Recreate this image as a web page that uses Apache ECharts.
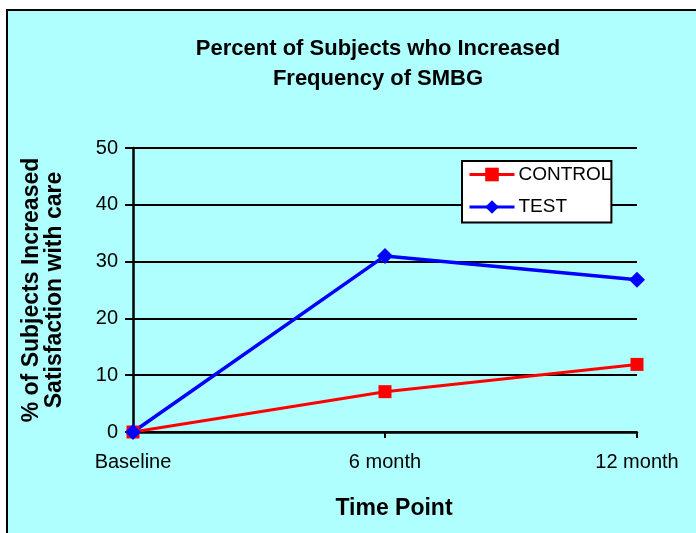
<!DOCTYPE html>
<html>
<head>
<meta charset="utf-8">
<script src="https://cdn.jsdelivr.net/npm/echarts@6/dist/echarts.min.js"></script>
<style>
  html, body { margin: 0; padding: 0; background: #fff; overflow: hidden; }
  #frame {
    position: absolute; left: 6px; top: 9px; width: 720px; height: 560px;
    background: #afffff; border: 2px solid #000;
  }
  #chart { position: absolute; left: 0; top: 0; width: 696px; height: 533px; }
</style>
</head>
<body>
<div id="frame"></div>
<div id="chart"></div>
<script>
const categories = ["Baseline", "6 month", "12 month"]
const controlValues = [0, 7.1, 11.9]
const testValues = [0, 31.0, 26.8]
const seriesNames = ["CONTROL", "TEST"]

const font = "'Liberation Sans', Arial, sans-serif"
const black = "#000"

const chart = echarts.init(document.getElementById("chart"), null, { renderer: "canvas" })

const option = {
  animation: false,
  backgroundColor: "transparent",
  textStyle: { fontFamily: font },
  title: {
    text: "Percent of Subjects who Increased\nFrequency of SMBG",
    left: 378,
    top: 34,
    textAlign: "center",
    padding: 0,
    textStyle: {
      fontFamily: font,
      fontSize: 22,
      fontWeight: "bold",
      color: black,
      lineHeight: 30,
    },
  },
  legend: {
    data: seriesNames,
    orient: "vertical",
    left: 462,
    top: 161,
    padding: [4, 0, 6, 6],
    itemGap: 13.5,
    itemWidth: 45,
    itemHeight: 17,
    backgroundColor: "#fff",
    borderColor: black,
    borderWidth: 2,
    borderRadius: 0,
    lineStyle: { width: 3 },
    textStyle: { fontFamily: font, fontSize: 19, color: black, padding: [0, 0, 0, -1] },
  },
  grid: {
    left: 133,
    right: 59,
    top: 148,
    bottom: 101,
    containLabel: false,
  },
  xAxis: {
    type: "category",
    data: categories,
    boundaryGap: false,
    name: "Time Point",
    nameLocation: "middle",
    nameGap: 65,
    nameTextStyle: {
      fontFamily: font,
      fontSize: 23,
      fontWeight: "bold",
      color: black,
      padding: [0, 0, 0, 18],
    },
    axisLine: { show: true, lineStyle: { color: black, width: 2.5 } },
    axisTick: { show: true, length: 6, lineStyle: { color: black, width: 2 } },
    axisLabel: { color: black, fontSize: 20, margin: 20, fontFamily: font },
    splitLine: { show: false },
  },
  yAxis: {
    type: "value",
    min: 0,
    max: 50,
    interval: 10,
    name: "% of Subjects Increased\nSatisfaction with care",
    nameLocation: "middle",
    nameGap: 67,
    nameTextStyle: {
      fontFamily: font,
      fontSize: 23,
      fontWeight: "bold",
      color: black,
      lineHeight: 23,
    },
    axisLine: { show: true, lineStyle: { color: black, width: 2.5 } },
    axisTick: { show: true, length: 8, lineStyle: { color: black, width: 2 } },
    axisLabel: { color: black, fontSize: 20, margin: 15, fontFamily: font },
    splitLine: { show: true, lineStyle: { color: black, width: 2 } },
  },
  series: [
    {
      name: seriesNames[0],
      type: "line",
      data: controlValues,
      symbol: "rect",
      symbolSize: 13,
      color: "#ff0000",
      lineStyle: { color: "#ff0000", width: 3 },
      itemStyle: { color: "#ff0000" },
    },
    {
      name: seriesNames[1],
      type: "line",
      data: testValues,
      symbol: "diamond",
      symbolSize: 16,
      color: "#0000ff",
      lineStyle: { color: "#0000ff", width: 3.5 },
      itemStyle: { color: "#0000ff" },
    },
  ],
}

chart.setOption(option)
</script>
</body>
</html>
